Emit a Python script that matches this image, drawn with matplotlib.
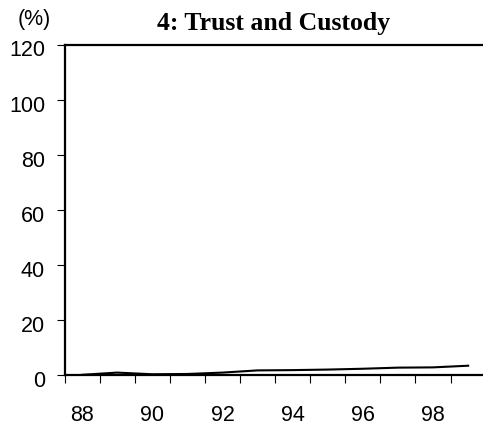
import matplotlib
matplotlib.use("Agg")
import matplotlib.pyplot as plt
from matplotlib.transforms import ScaledTranslation
import numpy as np

years = [88, 89, 90, 91, 92, 93, 94, 95, 96, 97, 98, 99]
share = [0.0, 0.8, 0.2, 0.3, 0.8, 1.6, 1.7, 1.9, 2.2, 2.6, 2.7, 3.3]
year_labels = ["88", "90", "92", "94", "96", "98"]
yticks = [0, 20, 40, 60, 80, 100, 120]
title = "4: Trust and Custody"
unit = "(%)"

W, H = 483, 431
fig = plt.figure(figsize=(W / 100, H / 100), dpi=100)
left, right, top, bottom = 64.5, 485.7, 45.5, 375.8
ax = fig.add_axes([left / W, (H - bottom) / H, (right - left) / W, (bottom - top) / H])

x = np.arange(len(years)) + 0.5
ax.plot(x, share, color="black", lw=1.5, solid_joinstyle="round", clip_on=False, zorder=3)

ax.set_xlim(0, len(years))
ax.set_ylim(0, 120)

ax.spines["right"].set_visible(False)
for s in ["left", "bottom", "top"]:
    ax.spines[s].set_linewidth(1.6)

sans = "Liberation Sans"
fs = 15.5
ax.set_xticks(np.arange(0, len(years)))
ax.set_xticklabels([])
lab_pos = [years.index(int(l)) + 0.5 for l in year_labels]
ax.set_xticks(lab_pos, minor=True)
ax.set_xticklabels(year_labels, minor=True, fontfamily=sans, fontsize=fs)
ax.tick_params(axis="x", which="major", direction="out", length=6, width=0.8)
ax.tick_params(axis="x", which="minor", length=0, pad=21)

ax.set_yticks(yticks)
ax.set_yticklabels([str(v) for v in yticks], fontfamily=sans, fontsize=fs)
ax.tick_params(axis="y", direction="out", length=6, width=0.8, pad=8)
for lab in ax.get_yticklabels():
    lab.set_transform(lab.get_transform() + ScaledTranslation(0, -3 / 100, fig.dpi_scale_trans))

fig.text(274 / W, 1 - 30 / H, title, ha="center", va="baseline",
         fontfamily="Liberation Serif", fontweight="bold", fontsize=18.5)
fig.text(34.5 / W, 1 - 20 / H, unit, ha="center", va="center",
         fontfamily=sans, fontsize=fs)

fig.savefig("out.png", dpi=100)
